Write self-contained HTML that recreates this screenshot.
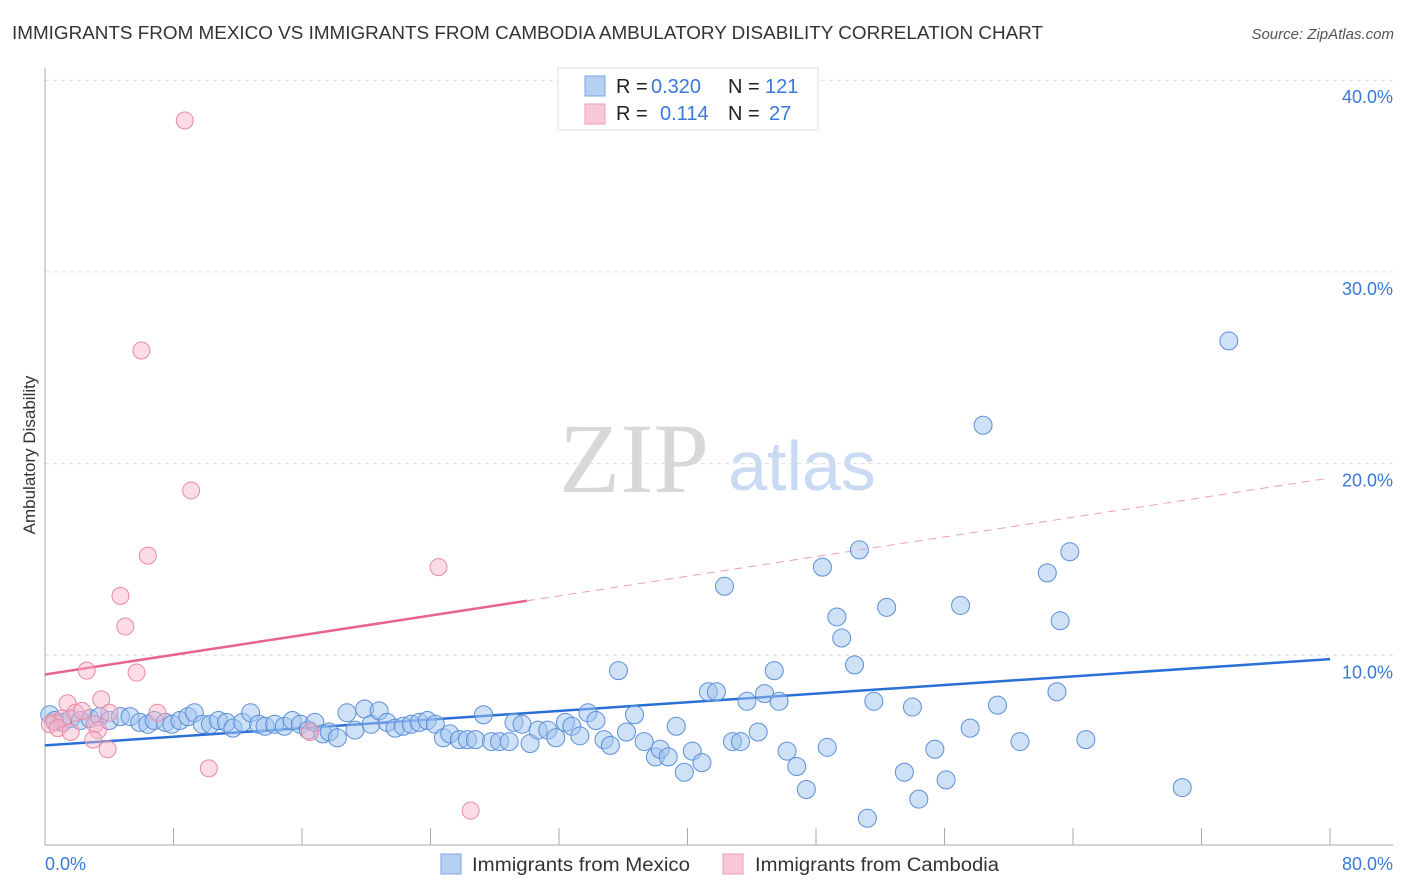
<!DOCTYPE html>
<html><head><meta charset="utf-8"><style>
body{margin:0;background:#fff;font-family:"Liberation Sans",sans-serif;}
#c{position:relative;width:1406px;height:892px;overflow:hidden}
</style></head><body>
<div id="c">
<svg id="s" width="1406" height="892" xmlns="http://www.w3.org/2000/svg">
<text x="12" y="39" font-size="18" fill="#333" textLength="1031" lengthAdjust="spacingAndGlyphs">IMMIGRANTS FROM MEXICO VS IMMIGRANTS FROM CAMBODIA AMBULATORY DISABILITY CORRELATION CHART</text>
<text x="1394" y="39" font-size="15" fill="#555" font-style="italic" text-anchor="end">Source: ZipAtlas.com</text>
<text x="634" y="492" font-size="100" fill="#d8d8d8" font-family="Liberation Serif,serif" text-anchor="middle">ZIP</text>
<text x="802" y="490" font-size="70" fill="#c9daf2" text-anchor="middle">atlas</text>
<g id="grid"></g><g id="axes"></g><g id="lines"></g><g id="pts"></g>
<text x="35" y="455" font-size="17" fill="#333" text-anchor="middle" transform="rotate(-90 35 455)">Ambulatory Disability</text>
<text x="45" y="870" font-size="18" fill="#3a78d8">0.0%</text>
<text x="1393" y="870" font-size="18" fill="#3a78d8" text-anchor="end">80.0%</text>
<g>
<rect x="558" y="68" width="260" height="62" fill="#fff" stroke="#ddd"/>
<rect x="585" y="76" width="20" height="20" fill="#b7d0f2" stroke="#7aa6e6"/>
<rect x="585" y="104" width="20" height="20" fill="#f9c8d6" stroke="#ee9bb4"/>
<text x="616" y="93" font-size="20" fill="#222">R = <tspan x="651" fill="#3a78d8">0.320</tspan><tspan x="728">N = </tspan><tspan x="765" fill="#3a78d8">121</tspan></text>
<text x="616" y="120" font-size="20" fill="#222">R = <tspan x="660" fill="#3a78d8">0.114</tspan><tspan x="728">N = </tspan><tspan x="769" fill="#3a78d8">27</tspan></text>
</g>
<g>
<rect x="441" y="854" width="20" height="20" fill="#b7d0f2" stroke="#7aa6e6"/>
<text x="472" y="871" font-size="19" fill="#333" textLength="218" lengthAdjust="spacingAndGlyphs">Immigrants from Mexico</text>
<rect x="723" y="854" width="20" height="20" fill="#f9c8d6" stroke="#ee9bb4"/>
<text x="755" y="871" font-size="19" fill="#333" textLength="244" lengthAdjust="spacingAndGlyphs">Immigrants from Cambodia</text>
</g>
</svg>
</div>
<script>
const yTicks=[10,20,30,40];
const yTickLabels=["10.0%","20.0%","30.0%","40.0%"];
const xTicks=[8,16,24,32,40,48,56,64,72,80];
const mexicoX=[0.3,0.6,1.1,1.6,2.2,2.8,3.4,4.0,4.7,5.3,5.9,6.4,6.8,7.5,7.9,8.4,8.9,9.3,9.8,10.3,10.8,11.3,11.7,12.3,12.8,13.3,13.7,14.3,14.9,15.4,15.9,16.4,16.8,17.3,17.7,18.2,18.8,19.3,19.9,20.3,20.8,21.3,21.8,22.3,22.8,23.3,23.8,24.3,24.8,25.2,25.8,26.3,26.8,27.3,27.8,28.3,28.9,29.2,29.7,30.2,30.7,31.3,31.8,32.4,32.8,33.3,33.8,34.3,34.8,35.2,35.7,36.2,36.7,37.3,38.0,38.3,38.8,39.3,39.8,40.3,40.9,41.3,41.8,42.3,42.8,43.3,43.7,44.4,44.8,45.4,45.7,46.2,46.8,47.4,48.4,48.7,49.3,49.6,50.4,50.7,51.2,51.6,52.4,53.5,54.0,54.4,55.4,56.1,57.0,57.6,58.4,59.3,60.7,62.4,63.0,63.2,63.8,64.8,70.8,73.7];
const mexicoY=[6.9,6.6,6.5,6.7,6.6,6.7,6.8,6.6,6.8,6.8,6.5,6.4,6.6,6.5,6.4,6.6,6.8,7.0,6.4,6.4,6.6,6.5,6.2,6.5,7.0,6.4,6.3,6.4,6.3,6.6,6.4,6.1,6.5,5.9,6.0,5.7,7.0,6.1,7.2,6.4,7.1,6.5,6.2,6.3,6.4,6.5,6.6,6.4,5.7,5.9,5.6,5.6,5.6,6.9,5.5,5.5,5.5,6.5,6.4,5.4,6.1,6.1,5.7,6.5,6.3,5.8,7.0,6.6,5.6,5.3,9.2,6.0,6.9,5.5,4.7,5.1,4.7,6.3,3.9,5.0,4.4,8.1,8.1,13.6,5.5,5.5,7.6,6.0,8.0,9.2,7.6,5.0,4.2,3.0,14.6,5.2,12.0,10.9,9.5,15.5,1.5,7.6,12.5,3.9,7.3,2.5,5.1,3.5,12.6,6.2,22.0,7.4,5.5,14.3,8.1,11.8,15.4,5.6,3.1,26.4];
const cambodiaX=[8.7,6.0,9.1,6.4,4.7,5.0,24.5,2.6,5.7,1.4,3.5,7.0,4.0,0.6,1.1,1.9,2.3,3.1,3.3,3.0,3.9,0.3,0.8,1.6,10.2,26.5,16.5];
const cambodiaY=[37.9,25.9,18.6,15.2,13.1,11.5,14.6,9.2,9.1,7.5,7.7,7.0,7.0,6.5,6.7,7.0,7.1,6.4,6.1,5.6,5.1,6.4,6.2,6.0,4.1,1.9,6.0];
const mexicoTrend=[5.3,9.8];
const cambodiaTrend=[9.0,19.25];
const cambodiaSolidEnd=30;

const NS="http://www.w3.org/2000/svg";
const X=v=>45+v*(1285/80);
const Y=v=>847-v*19.17;
function mk(tag,attrs,parent){const e=document.createElementNS(NS,tag);for(const k in attrs)e.setAttribute(k,attrs[k]);document.getElementById(parent).appendChild(e);return e;}
yTicks.forEach((t,i)=>{
  const g=mk('line',{x1:45,x2:1393,y1:Y(t),y2:Y(t),stroke:'#ddd','stroke-dasharray':'4,4'},'grid');
  
  
  const l=mk('text',{x:1393,y:Y(t)+23,'font-size':18,fill:'#3a78d8','text-anchor':'end'},'grid');
  l.textContent=yTickLabels[i];
  
  
});
const ax=mk('line',{x1:45,x2:45,y1:68,y2:845,stroke:'#aaa'},'axes');


const bx=mk('line',{x1:45,x2:1393,y1:845,y2:845,stroke:'#aaa'},'axes');


xTicks.forEach(t=>{
  const tk=mk('line',{x1:X(t),x2:X(t),y1:828,y2:845,stroke:'#aaa'},'axes');
  
  
});
mexicoX.forEach((x,i)=>{
  const c=mk('circle',{cx:X(x),cy:Y(mexicoY[i]),r:9,fill:'rgba(160,196,240,0.5)',stroke:'#5b8fd8','stroke-width':1},'pts');
  
  
});
cambodiaX.forEach((x,i)=>{
  const c=mk('circle',{cx:X(x),cy:Y(cambodiaY[i]),r:8.5,fill:'rgba(248,180,200,0.45)',stroke:'#e88aa6','stroke-width':1},'pts');
  
  
});
const ml=mk('line',{x1:X(0),y1:Y(mexicoTrend[0]),x2:X(80),y2:Y(mexicoTrend[1]),stroke:'#2a6fd6','stroke-width':2.5},'lines');


const cy=x=>cambodiaTrend[0]+(cambodiaTrend[1]-cambodiaTrend[0])*x/80;
const cs=mk('line',{x1:X(0),y1:Y(cy(0)),x2:X(cambodiaSolidEnd),y2:Y(cy(cambodiaSolidEnd)),stroke:'#e8638e','stroke-width':2.5},'lines');


const cd=mk('line',{x1:X(cambodiaSolidEnd),y1:Y(cy(cambodiaSolidEnd)),x2:X(80),y2:Y(cy(80)),stroke:'#e8a0b6','stroke-width':1,'stroke-dasharray':'8,6'},'lines');


</script>
</body></html>
